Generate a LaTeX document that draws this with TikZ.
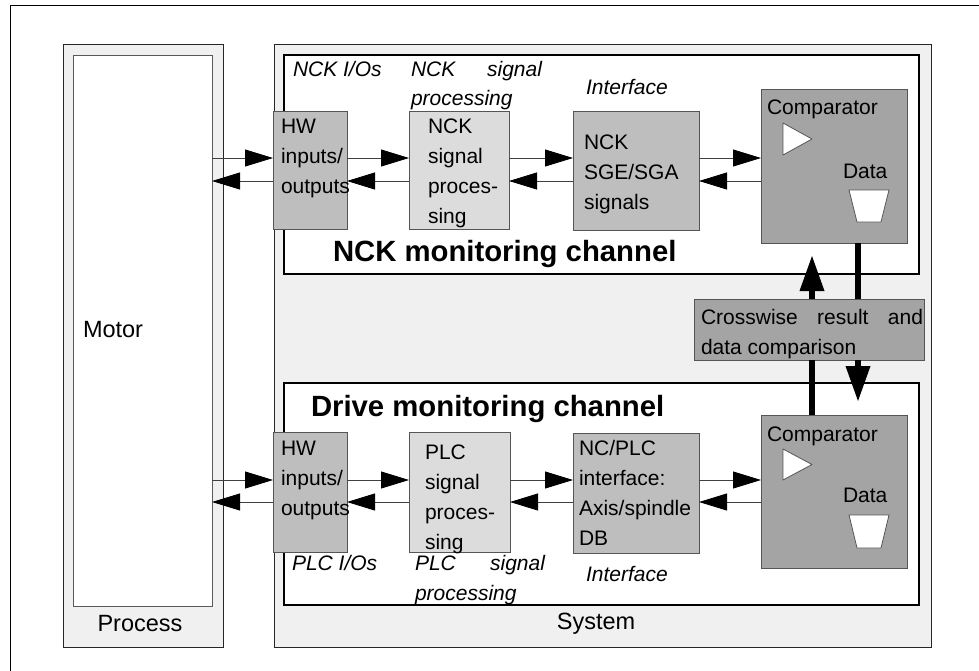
\documentclass[tikz,border=0pt]{standalone}
\usepackage{fontspec}
\setmainfont{Liberation Sans}
\usetikzlibrary{arrows.meta}
\definecolor{panel}{HTML}{F0F0F0}
\definecolor{hwgrey}{HTML}{BEBEBE}
\definecolor{spgrey}{HTML}{DCDCDC}
\definecolor{cmpgrey}{HTML}{A4A4A4}
\definecolor{edge}{HTML}{555555}
\begin{document}
\begin{tikzpicture}[x=1pt,y=-1pt,
  rfont/.style={font=\fontsize{21}{30}\selectfont},
  ifont/.style={font=\fontsize{21}{29}\selectfont\itshape},
  bfont/.style={font=\fontsize{29.3}{32}\selectfont\bfseries},
  pfont/.style={font=\fontsize{23.5}{28}\selectfont},
  txt/.style={anchor=base west,inner sep=0pt,outer sep=0pt},
  boxr/.style={draw=edge,line width=0.9pt,inner sep=0pt,outer sep=0pt,anchor=north west},
  frame/.style={draw=black!85,line width=0.9pt,inner sep=0pt,outer sep=0pt,anchor=north west},
  chan/.style={draw=black,fill=white,line width=1.8pt,inner sep=0pt,outer sep=0pt,anchor=north west},
  arr/.style={draw=black!75,line width=0.8pt,-{Triangle[length=28pt,width=17pt,black]}},
  thick/.style={draw=black,line width=6.5pt},
  tharr/.style={draw=black,line width=6.5pt,-{Triangle[length=36pt,width=23pt,black]}},
  sym/.style={draw=edge,fill=white,line width=0.8pt,line join=round}
]
\useasboundingbox (0,0) rectangle (979,670);
\fill[white] (0,0) rectangle (979,670);
% outer frame
\draw[black,line width=1pt] (10,675) -- (10,5) -- (985,5);

% Process panel
\node[frame,fill=panel,minimum width=160pt,minimum height=603pt] (proc) at (63,44) {};
\node[boxr,fill=white,draw=black!65,minimum width=139pt,minimum height=551pt] (motor) at (73,55) {};
\node[txt,pfont] (motortxt) at (83,337) {Motor};
\node[pfont,inner sep=0pt] (proctxt) at (140,624) {Process};

% System panel
\node[frame,fill=panel,minimum width=657pt,minimum height=603pt] (sys) at (274,44) {};
\node[pfont,inner sep=0pt] (systxt) at (596,624) {System};

% channels
\node[chan,minimum width=635pt,minimum height=219pt] (nckch) at (284,55) {};
\node[chan,minimum width=635pt,minimum height=222pt] (drvch) at (284,383) {};
\node[txt,bfont] (nckchtxt) at (333,261) {NCK monitoring channel};
\node[txt,bfont] (drvchtxt) at (311,416) {Drive monitoring channel};

% NCK row labels
\node[txt,ifont] (l1) at (293,76) {NCK I/Os};
\node[txt,ifont] (l2) at (411,76) {\makebox[131pt][s]{NCK signal}};
\node[txt,ifont] (l3) at (411,105) {processing};
\node[txt,ifont] (l4) at (586,94) {Interface};

% NCK row boxes
\node[boxr,fill=hwgrey,minimum width=74pt,minimum height=118pt] (hw1) at (273,111) {};
\node[boxr,fill=spgrey,minimum width=100pt,minimum height=118pt] (sp1) at (409,111) {};
\node[boxr,fill=hwgrey,minimum width=126pt,minimum height=119pt] (sg1) at (573,111) {};
\node[boxr,fill=cmpgrey,minimum width=146pt,minimum height=154pt] (cp1) at (761,89) {};
\node[txt,rfont] (hw1t) at (281,133) {\parbox[t]{100pt}{HW\\inputs/\\outputs}};
\node[txt,rfont] (sp1t) at (428,133) {\parbox[t]{100pt}{NCK\\signal\\proces-\\sing}};
\node[txt,rfont] (sg1t) at (584,149) {\parbox[t]{120pt}{NCK\\SGE/SGA\\signals}};
\node[txt,rfont] (cp1t) at (767,114) {Comparator};
\node[txt,rfont] (cp1d) at (843,178) {Data};
\draw[sym] (783,123) -- (812,139) -- (783,155) -- cycle;
\draw[sym] (849,190) -- (889,190) -- (881,222) -- (857,222) -- cycle;

% Drive row labels
\node[txt,ifont] (m1) at (292,570) {PLC I/Os};
\node[txt,ifont] (m2) at (415,570) {\makebox[130pt][s]{PLC signal}};
\node[txt,ifont] (m3) at (415,600) {processing};
\node[txt,ifont] (m4) at (586,581) {Interface};

% Drive row boxes
\node[boxr,fill=hwgrey,minimum width=74pt,minimum height=120pt] (hw2) at (273,432) {};
\node[boxr,fill=spgrey,minimum width=101pt,minimum height=120pt] (sp2) at (409,432) {};
\node[boxr,fill=hwgrey,minimum width=126pt,minimum height=120pt] (sg2) at (573,433) {};
\node[boxr,fill=cmpgrey,minimum width=146pt,minimum height=153pt] (cp2) at (761,415) {};
\node[txt,rfont] (hw2t) at (281,455) {\parbox[t]{100pt}{HW\\inputs/\\outputs}};
\node[txt,rfont] (sp2t) at (425,459) {\parbox[t]{100pt}{PLC\\signal\\proces-\\sing}};
\node[txt,rfont] (sg2t) at (579,455) {\parbox[t]{120pt}{NC/PLC\\interface:\\Axis/spindle\\DB}};
\node[txt,rfont] (cp2t) at (767,441) {Comparator};
\node[txt,rfont] (cp2d) at (843,502) {Data};
\draw[sym] (783,449) -- (812,464.5) -- (783,480) -- cycle;
\draw[sym] (849,515) -- (889,515) -- (881,548) -- (857,548) -- cycle;

% crosswise box
\node[boxr,fill=cmpgrey,minimum width=230pt,minimum height=61pt] (cw) at (694,299) {};
\node[txt,rfont] (cwt1) at (701,324) {\makebox[222pt][s]{Crosswise result and}};
\node[txt,rfont] (cwt2) at (701,354) {data comparison};

% level coordinates
\coordinate (nu) at (0,158);
\coordinate (nl) at (0,181);
\coordinate (du) at (0,480);
\coordinate (dl) at (0,502);
\coordinate (xl) at (812,0);
\coordinate (xr) at (858,0);

% NCK row arrows
\draw[arr] (motor.east |- nu) -- (hw1.west |- nu);
\draw[arr] (hw1.west |- nl) -- (motor.east |- nl);
\draw[arr] (hw1.east |- nu) -- (sp1.west |- nu);
\draw[arr] (sp1.west |- nl) -- (hw1.east |- nl);
\draw[arr] (sp1.east |- nu) -- (sg1.west |- nu);
\draw[arr] (sg1.west |- nl) -- (sp1.east |- nl);
\draw[arr] (sg1.east |- nu) -- (cp1.west |- nu);
\draw[arr] (cp1.west |- nl) -- (sg1.east |- nl);

% Drive row arrows
\draw[arr] (motor.east |- du) -- (hw2.west |- du);
\draw[arr] (hw2.west |- dl) -- (motor.east |- dl);
\draw[arr] (hw2.east |- du) -- (sp2.west |- du);
\draw[arr] (sp2.west |- dl) -- (hw2.east |- dl);
\draw[arr] (sp2.east |- du) -- (sg2.west |- du);
\draw[arr] (sg2.west |- dl) -- (sp2.east |- dl);
\draw[arr] (sg2.east |- du) -- (cp2.west |- du);
\draw[arr] (cp2.west |- dl) -- (sg2.east |- dl);

% crosswise connections
\draw[tharr,shorten >=12pt] (cw.north -| xl) -- (cp1.south -| xl);
\draw[thick] (cp1.south -| xr) -- (cw.north -| xr);
\draw[thick] (cw.south -| xl) -- (cp2.north -| xl);
\draw[tharr,shorten >=13pt] (cw.south -| xr) -- (cp2.north -| xr);
\end{tikzpicture}
\end{document}
